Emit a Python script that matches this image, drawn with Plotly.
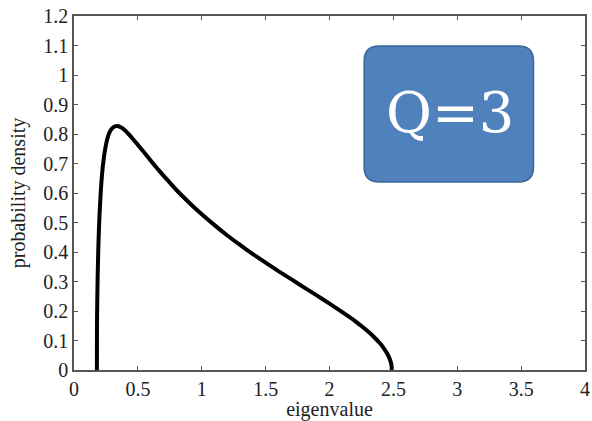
import plotly.graph_objects as go

# eigenvalue vs probability density
eigenvalue = [0.179, 0.180, 0.182, 0.185, 0.19, 0.195, 0.20, 0.21, 0.215, 0.22, 0.225, 0.23,
              0.24, 0.25, 0.26, 0.27, 0.28, 0.30, 0.32, 0.34, 0.37, 0.40, 0.45, 0.50,
              0.55, 0.60, 0.65, 0.70, 0.75, 0.80, 0.90, 1.00, 1.10, 1.20, 1.30, 1.40,
              1.50, 1.60, 1.70, 1.80, 1.90, 2.00, 2.10, 2.20, 2.25, 2.30, 2.35, 2.40,
              2.42, 2.45, 2.46, 2.47, 2.48, 2.485, 2.488]
density = [0.0, 0.151, 0.232, 0.313, 0.407, 0.475, 0.528, 0.608, 0.639, 0.665, 0.688, 0.707,
           0.739, 0.763, 0.782, 0.796, 0.807, 0.820, 0.826, 0.827, 0.822, 0.812, 0.789, 0.763,
           0.737, 0.710, 0.684, 0.659, 0.635, 0.611, 0.568, 0.528, 0.491, 0.456, 0.424, 0.393,
           0.364, 0.335, 0.308, 0.280, 0.253, 0.225, 0.196, 0.166, 0.149, 0.131, 0.111, 0.088,
           0.077, 0.057, 0.049, 0.039, 0.026, 0.016, 0.0]

x_ticks = [0, 0.5, 1, 1.5, 2, 2.5, 3, 3.5, 4]
y_ticks = [0, 0.1, 0.2, 0.3, 0.4, 0.5, 0.6, 0.7, 0.8, 0.9, 1.0, 1.1, 1.2]
label_text = "Q=3"

SERIF = "Liberation Serif"

W, H = 592, 421
ML, MR, MT, MB = 74, 2, 16, 51
PW, PH = W - ML - MR, H - MT - MB

fig = go.Figure()
fig.add_trace(go.Scatter(x=eigenvalue, y=density, mode="lines",
                         line=dict(color="black", width=4, shape="spline", smoothing=0.4),
                         showlegend=False))

def px2paper(px, py):
    return (px - ML) / PW, (H - MB - py) / PH

# rounded rectangle (decoration) in pixel space -> paper
x0, x1, y0, y1, r = 367, 538, 46, 182, 15
def P(px, py):
    a, b = px2paper(px, py)
    return f"{a:.5f},{b:.5f}"
path = (f"M {P(x0 + r, y0)} L {P(x1 - r, y0)} Q {P(x1, y0)} {P(x1, y0 + r)} "
        f"L {P(x1, y1 - r)} Q {P(x1, y1)} {P(x1 - r, y1)} "
        f"L {P(x0 + r, y1)} Q {P(x0, y1)} {P(x0, y1 - r)} "
        f"L {P(x0, y0 + r)} Q {P(x0, y0)} {P(x0 + r, y0)} Z")
fig.add_shape(type="path", path=path, xref="paper", yref="paper",
              fillcolor="#4F81BD", line=dict(color="#3A679C", width=1.5), layer="above")

cx, cy = px2paper((x0 + x1) / 2 + 1, (y0 + y1) / 2 - 2)
fig.add_annotation(x=cx, y=cy, xref="paper", yref="paper", text=label_text,
                   showarrow=False, xanchor="center", yanchor="middle",
                   font=dict(family="DejaVu Serif", size=56, color="white"))

axis_common = dict(showline=True, linecolor="#555555", linewidth=1.5, mirror="ticks",
                   ticks="inside", ticklen=4, tickcolor="#555555", tickwidth=1,
                   showgrid=False, zeroline=False, ticklabeloverflow="allow",
                   tickfont=dict(family=SERIF, size=20, color="#222222"))

fig.update_xaxes(range=[0, 4], tickvals=x_ticks, **axis_common,
                 title=dict(text="eigenvalue", standoff=4,
                            font=dict(family=SERIF, size=20, color="#222222")))
fig.update_yaxes(range=[0, 1.2], tickvals=y_ticks, **axis_common,
                 title=dict(text="probability density", standoff=12,
                            font=dict(family=SERIF, size=20, color="#222222")))

fig.update_layout(width=W, height=H, margin=dict(l=ML, r=MR, t=MT, b=MB),
                  plot_bgcolor="white", paper_bgcolor="white",
                  font=dict(family=SERIF))

fig.write_html("out.html")
